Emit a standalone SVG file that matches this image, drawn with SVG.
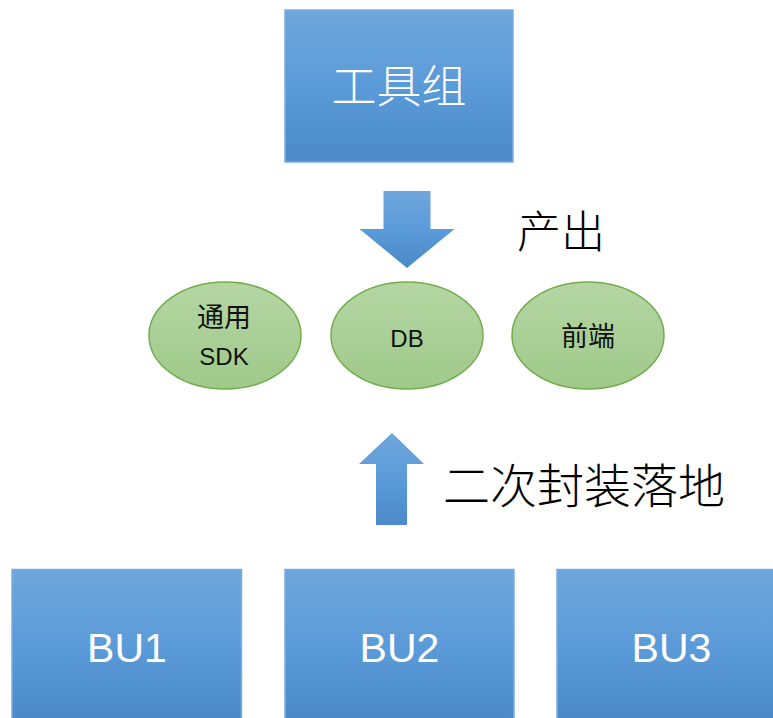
<svg xmlns="http://www.w3.org/2000/svg" width="773" height="718" viewBox="0 0 773 718">
<defs>
<linearGradient id="gBlue" x1="0" y1="0" x2="0" y2="1">
<stop offset="0" stop-color="#6fa6dc"/>
<stop offset="0.5" stop-color="#5b9bd9"/>
<stop offset="1" stop-color="#4b89c9"/>
</linearGradient>
<linearGradient id="gGreen" x1="0" y1="0" x2="0" y2="1">
<stop offset="0" stop-color="#b5d6a3"/>
<stop offset="1" stop-color="#9fc98a"/>
</linearGradient>
<style>
.box{fill:url(#gBlue);stroke:#7aaee0;stroke-width:1.5}
.ell{fill:url(#gGreen);stroke:#72ad4b;stroke-width:1.5}
.arr{fill:url(#gBlue);stroke:none}
.bt{font-family:"Liberation Sans","Noto Sans CJK SC",sans-serif;fill:#ffffff;text-anchor:middle}
.et{font-family:"Liberation Sans","Noto Sans CJK SC",sans-serif;fill:#111111;text-anchor:middle;font-size:24px}
.ct{font-family:"Noto Sans CJK SC",sans-serif;fill:#111111;text-anchor:middle;font-size:27px}
.lt{font-family:"Noto Sans CJK SC",serif;fill:#000000;font-weight:300}
</style>
</defs>
<g id="toolgroup">
<rect class="box" x="285" y="10" width="228" height="152"/>
<text class="bt" x="399" y="103" font-family="Noto Sans CJK SC" style="font-family:'Noto Sans CJK SC',sans-serif;font-size:45px;font-weight:300">工具组</text>
</g>
<g id="connectors">
<polygon class="arr" points="383.5,191 430.5,191 430.5,229 454.5,229 407,268 359.5,229 383.5,229"/>
<polygon class="arr" points="392,433 424,464 407,464 407,525 376,525 376,464 359,464"/>
</g>
<g id="label-output">
<text class="lt" x="517" y="248" font-size="44">产出</text>
</g>
<g id="label-wrap">
<text class="lt" x="443" y="503" font-size="47">二次封装落地</text>
</g>
<g id="sdk">
<ellipse class="ell" cx="225" cy="335.5" rx="76" ry="53.5"/>
<text class="ct" x="224" y="327">通用</text>
<text class="et" x="224" y="365">SDK</text>
</g>
<g id="db">
<ellipse class="ell" cx="407" cy="335.5" rx="76" ry="53.5"/>
<text class="et" x="407" y="347">DB</text>
</g>
<g id="frontend">
<ellipse class="ell" cx="588" cy="335.5" rx="76" ry="53.5"/>
<text class="ct" x="588" y="346">前端</text>
</g>
<g id="bu1">
<rect class="box" x="12" y="569.5" width="229.5" height="152"/>
<text class="bt" x="127" y="662" font-size="41">BU1</text>
</g>
<g id="bu2">
<rect class="box" x="285" y="569.5" width="229" height="152"/>
<text class="bt" x="399.5" y="662" font-size="41">BU2</text>
</g>
<g id="bu3">
<rect class="box" x="557" y="569.5" width="229" height="152"/>
<text class="bt" x="671.5" y="662" font-size="41">BU3</text>
</g>
</svg>
